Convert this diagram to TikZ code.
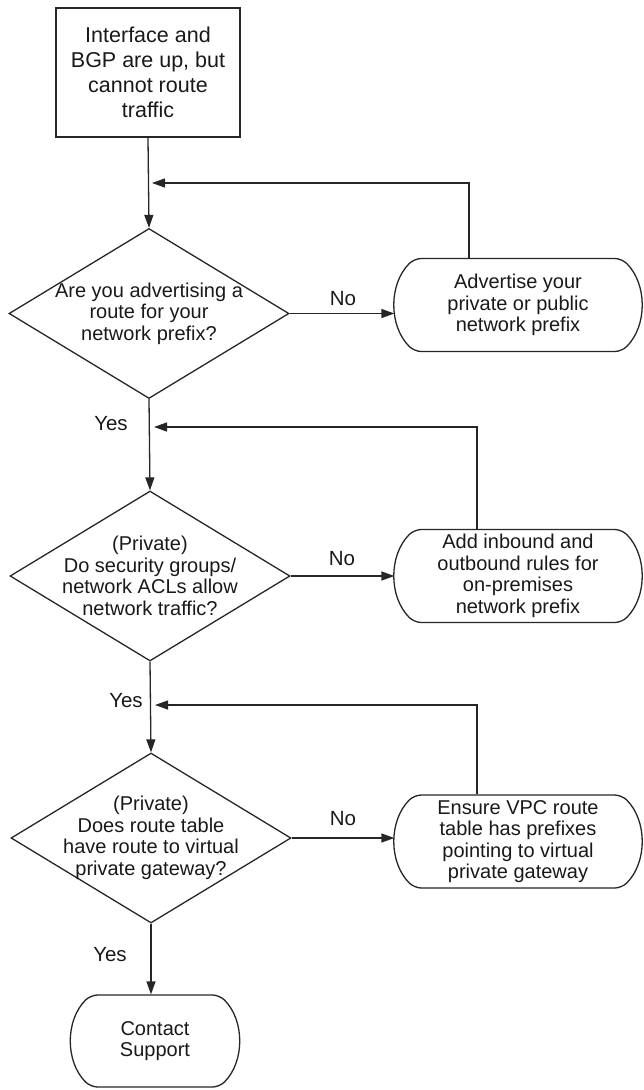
\documentclass[tikz,border=0pt]{standalone}
\usepackage{fontspec}
\setmainfont{Liberation Sans}
\usetikzlibrary{shapes.geometric,shapes.misc,arrows.meta,calc}
\begin{document}
\begin{tikzpicture}[x=1pt,y=-1pt,
  line/.style={draw=black!85, line width=1.3pt},
  arr/.style={line, -{Triangle[length=13pt,width=9pt]}},
  txt/.style={align=center, font=\fontsize{20}{21.5}\selectfont, inner sep=0pt, text=black!90},
  startbox/.style={line, rectangle, minimum width=184pt, minimum height=129pt, inner sep=0pt, align=center, text=black!90, font=\fontsize{21.5}{25}\selectfont},
  decision/.style={line, diamond, minimum width=280pt, minimum height=170pt, inner sep=0pt},
  action/.style={line, rounded rectangle, rounded rectangle arc length=90, rounded corners=7pt, minimum width=246pt, minimum height=93pt, inner sep=0pt, align=center, text=black!90, font=\fontsize{20}{21.5}\selectfont},
  lbl/.style={font=\fontsize{20.5}{22}\selectfont, inner sep=0pt, text=black!90}
]
\useasboundingbox (0,0) rectangle (643,1090);

% nodes
\node[startbox] (start) at (148,72.5) {Interface and\\BGP are up, but\\cannot route\\traffic};

\node[decision] (d1) at (149,313.5) {};
\node[txt] (d1t) at (d1.center) {Are you advertising a\\route for your\\network prefix?};

\node[decision] (d2) at (150,576) {};
\node[txt] (d2t) at (d2.center) {(Private)\\Do security groups/\\network ACLs allow\\network traffic?};

\node[decision] (d3) at (151,838) {};
\node[txt] (d3t) at (d3.center) {(Private)\\Does route table\\have route to virtual\\private gateway?};

\node[action] (b1) at (518,305) {Advertise your\\private or public\\network prefix};
\node[action] (b2) at (518,576) {Add inbound and\\outbound rules for\\on-premises\\network prefix};
\node[action] (b3) at (518,841.5) {Ensure VPC route\\table has prefixes\\pointing to virtual\\private gateway};

\node[action, minimum width=167pt, minimum height=92pt] (contact) at (155,1041) {Contact\\Support};

% labels
\node[lbl] (no1) at (343,299) {No};
\node[lbl] (no2) at (342,559) {No};
\node[lbl] (no3) at (343,819) {No};
\node[lbl] (yes1) at (111,424) {Yes};
\node[lbl] (yes2) at (126,701) {Yes};
\node[lbl] (yes3) at (110,955) {Yes};

% junction coordinates
\coordinate (m1) at (152,183);
\coordinate (c1) at (469,183);
\coordinate (m2) at (154,427);
\coordinate (c2) at (477,427);
\coordinate (m3) at (155,705);
\coordinate (c3) at (477,705);

% main flow
\draw[arr] (start.south) -- (d1.north);
\draw[arr] (d1.south) -- (d2.north);
\draw[arr] (d2.south) -- (d3.north);
\draw[arr] (d3.south) -- (d3.south |- contact.north);

% no branches
\draw[arr] (d1.east) -- (d1.east -| b1.west);
\draw[arr] (d2.east) -- (d2.east -| b2.west);
\draw[arr] (d3.east) -- (d3.east -| b3.west);

% feedback loops
\draw[arr] (c1 |- b1.north) -- (c1) -- (m1);
\draw[arr] (c2 |- b2.north) -- (c2) -- (m2);
\draw[arr] (c3 |- b3.north) -- (c3) -- (m3);
\end{tikzpicture}
\end{document}
